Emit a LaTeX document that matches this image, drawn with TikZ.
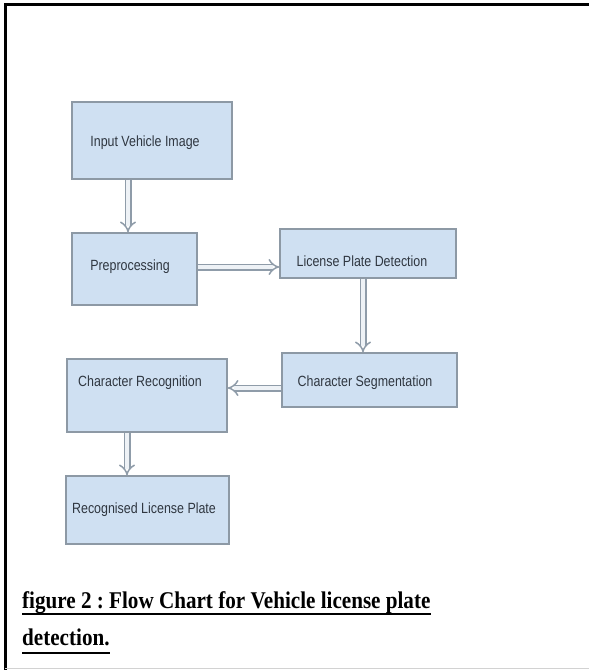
\documentclass[tikz,border=0pt]{standalone}
\usepackage{fontspec}
\setmainfont{Liberation Sans}
\newfontfamily\boxfont[FakeStretch=0.84]{Liberation Sans}
\newfontfamily\capfont[FakeStretch=0.88]{Liberation Serif}
\usetikzlibrary{arrows.meta}
\definecolor{boxfill}{HTML}{CFE0F2}
\definecolor{boxline}{HTML}{8D99A5}
\definecolor{txtgray}{HTML}{2F3640}
\definecolor{arrgray}{HTML}{8F9CA9}
\definecolor{arrin}{HTML}{EEF2F6}
\definecolor{framegray}{HTML}{D2D2D2}
\tikzset{
  box/.style={draw=boxline, fill=boxfill, line width=1.3pt, inner sep=0pt},
  lbl/.style={font=\boxfont\fontsize{14.8}{16}\selectfont, text=txtgray, inner sep=0pt},
  flow/.style={draw=arrgray, line width=1.5pt, double=arrin, double distance=4pt, -{Implies}},
  captxt/.style={font=\capfont\bfseries\fontsize{24}{28}\selectfont, inner sep=0pt, anchor=base west},
  uline/.style={line width=1.8pt, black}
}
\begin{document}
\frenchspacing
\begin{tikzpicture}[x=1pt,y=-1pt]
\useasboundingbox (0,0) rectangle (589,670);
% frame
\draw[line width=3pt, black] (5,670) -- (5,4.5) -- (589,4.5);
\draw[line width=1.5pt, framegray] (5,668.5) -- (589,668.5);
% boxes
\node[box, minimum width=160pt, minimum height=77pt] (in)  at (152,140.5) {};
\node[box, minimum width=125pt, minimum height=72pt] (pre) at (134.5,269) {};
\node[box, minimum width=176pt, minimum height=49pt] (lpd) at (368,253.5) {};
\node[box, minimum width=175pt, minimum height=54pt] (cs)  at (369.5,380) {};
\node[box, minimum width=160pt, minimum height=73pt] (cr)  at (147,395.5) {};
\node[box, minimum width=163pt, minimum height=68pt] (rlp) at (147.5,510) {};
% labels
\node[lbl] (tin)  at (145,143) {Input Vehicle Image};
\node[lbl] (tpre) at (130,267) {Preprocessing};
\node[lbl] (tlpd) at (362,261) {License Plate Detection};
\node[lbl] (tcs)  at (365,383) {Character Segmentation};
\node[lbl] (tcr)  at (140,383) {Character Recognition};
\node[lbl] (trlp) at (144,510) {Recognised License Plate};
% arrows
\draw[flow] (in.south -| 128,0) -- (pre.north -| 128,0);
\draw[flow] (pre.east |- 0,267) -- (lpd.west |- 0,267);
\draw[flow] (lpd.south -| 363,0) -- (cs.north -| 363,0);
\draw[flow] (cs.west |- 0,388) -- (cr.east |- 0,388);
\draw[flow] (cr.south -| 127,0) -- (rlp.north -| 127,0);
% caption
\node[captxt] (c1) at (22,608) {figure 2 : Flow Chart for Vehicle license plate};
\node[captxt] (c2) at (22,645) {detection.};
\draw[uline] ([yshift=-6pt]c1.base west) -- ([yshift=-6pt]c1.base east);
\draw[uline] ([yshift=-8pt]c2.base west) -- ([yshift=-8pt]c2.base east);
\end{tikzpicture}
\end{document}
